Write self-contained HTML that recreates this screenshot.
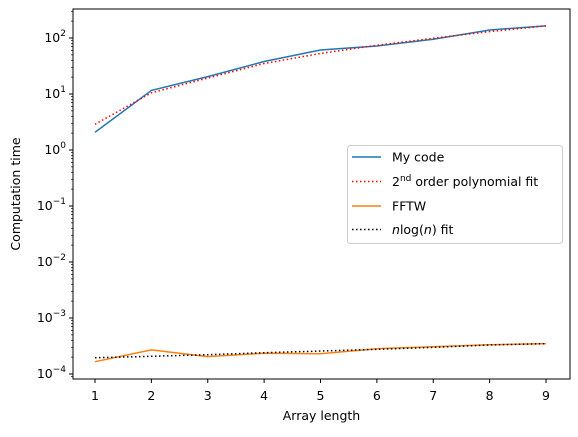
<!DOCTYPE html>
<html><head><meta charset="utf-8"><style>
body{margin:0;background:#fff}
text{font-family:"DejaVu Sans","Liberation Sans",sans-serif;font-size:12.5px;fill:#000}
</style></head><body>
<svg id="chart" width="578" height="432" xmlns="http://www.w3.org/2000/svg"></svg>
<script>
const xCats=[1,2,3,4,5,6,7,8,9];
const myCode=[2.07,11.6,20.4,38,61,72,95,139,165];
const polyFit=[2.88,10.5,19.3,35,53,74,99,130,165];
const fftw=[1.66e-4,2.7e-4,2.04e-4,2.35e-4,2.3e-4,2.83e-4,3.07e-4,3.33e-4,3.48e-4];
const nlognFit=[1.95e-4,2.07e-4,2.21e-4,2.4e-4,2.57e-4,2.76e-4,2.99e-4,3.3e-4,3.48e-4];
const xTicks=[1,2,3,4,5,6,7,8,9];
const yTickExps=[-4,-3,-2,-1,0,1,2];

const L=73,R=570,T=9,B=379;
const NS="http://www.w3.org/2000/svg";
const svg=document.getElementById('chart');
function sx(v){return 95+(v-1)*(546-95)/8;}
function sy(v){return 374-(Math.log10(v)+4)*56;}
function mk(tag,attrs,parent){const e=document.createElementNS(NS,tag);for(const k in attrs)e.setAttribute(k,attrs[k]);(parent||svg).appendChild(e);return e;}

const frame=mk('rect',{x:L,y:T,width:R-L,height:B-T,fill:'none',stroke:'#000','stroke-width':1});



xTicks.forEach(t=>{
  const g=mk('g',{});
  
  
  mk('line',{x1:sx(t),x2:sx(t),y1:B,y2:B+4,stroke:'#000'},g);
  const tx=mk('text',{x:sx(t),y:B+21,'text-anchor':'middle'},g);
  tx.textContent=t;
});
yTickExps.forEach(e=>{
  const g=mk('g',{});
  
  
  const y=sy(Math.pow(10,e));
  mk('line',{x1:L-4,x2:L,y1:y,y2:y,stroke:'#000'},g);
  const tx=mk('text',{x:L-7,y:y+4,'text-anchor':'end'},g);
  tx.appendChild(document.createTextNode('10'));
  const sp=mk('tspan',{dy:-6,'font-size':'9px'},tx);
  sp.textContent=e<0?'\u2212'+(-e):String(e);
});
for(let e=-5;e<=2;e++){for(let m=2;m<=9;m++){const v=m*Math.pow(10,e);const y=sy(v);if(y<T||y>B)continue;
  const ml=mk('line',{x1:L-2,x2:L,y1:y,y2:y,stroke:'#000','stroke-width':0.7});
  
  
}}

function series(arr,color,dash,name){
  const p=mk('polyline',{points:arr.map((v,i)=>sx(xCats[i])+','+sy(v)).join(' '),fill:'none',stroke:color,'stroke-width':1.5,'stroke-dasharray':dash||'none'});
  
  
}
series(myCode,'#1f77b4',null,'my-code-line');
series(polyFit,'#ff0000','1.5,2.5','poly-fit-line');
series(fftw,'#ff7f0e',null,'fftw-line');
series(nlognFit,'#000000','1.5,2.5','nlogn-fit-line');

const xl=mk('text',{x:(L+R)/2,y:420,'text-anchor':'middle'});xl.textContent='Array length';

const yl=mk('text',{x:0,y:0,'text-anchor':'middle',transform:'translate(20,'+((T+B)/2)+') rotate(-90)'});yl.textContent='Computation time';


const lg=mk('g',{});


mk('rect',{x:347.5,y:145.5,width:215,height:98,rx:3,fill:'#fff','fill-opacity':0.8,stroke:'#ccc'},lg);
const entries=[['#1f77b4',null,'My code'],['#ff0000','1.5,2.5','poly'],['#ff7f0e',null,'FFTW'],['#000','1.5,2.5','nlogn']];
const ys=[157,181.5,206,229.5];
entries.forEach((en,i)=>{
  const g=mk('g',{},lg);
  
  
  mk('line',{x1:352,x2:381,y1:ys[i],y2:ys[i],stroke:en[0],'stroke-width':1.5,'stroke-dasharray':en[1]||'none'},g);
  const t=mk('text',{x:392,y:ys[i]+4.5},g);
  if(i===1){t.appendChild(document.createTextNode('2'));const s=mk('tspan',{dy:-5,'font-size':'9px'},t);s.textContent='nd';const r=mk('tspan',{dy:5},t);r.textContent=' order polynomial fit';}
  else if(i===3){const s=mk('tspan',{'font-style':'italic'},t);s.textContent='n';const r=mk('tspan',{},t);r.textContent='log(';const s2=mk('tspan',{'font-style':'italic'},t);s2.textContent='n';const r2=mk('tspan',{},t);r2.textContent=') fit';}
  else t.textContent=en[2];
});
</script>
</body></html>
